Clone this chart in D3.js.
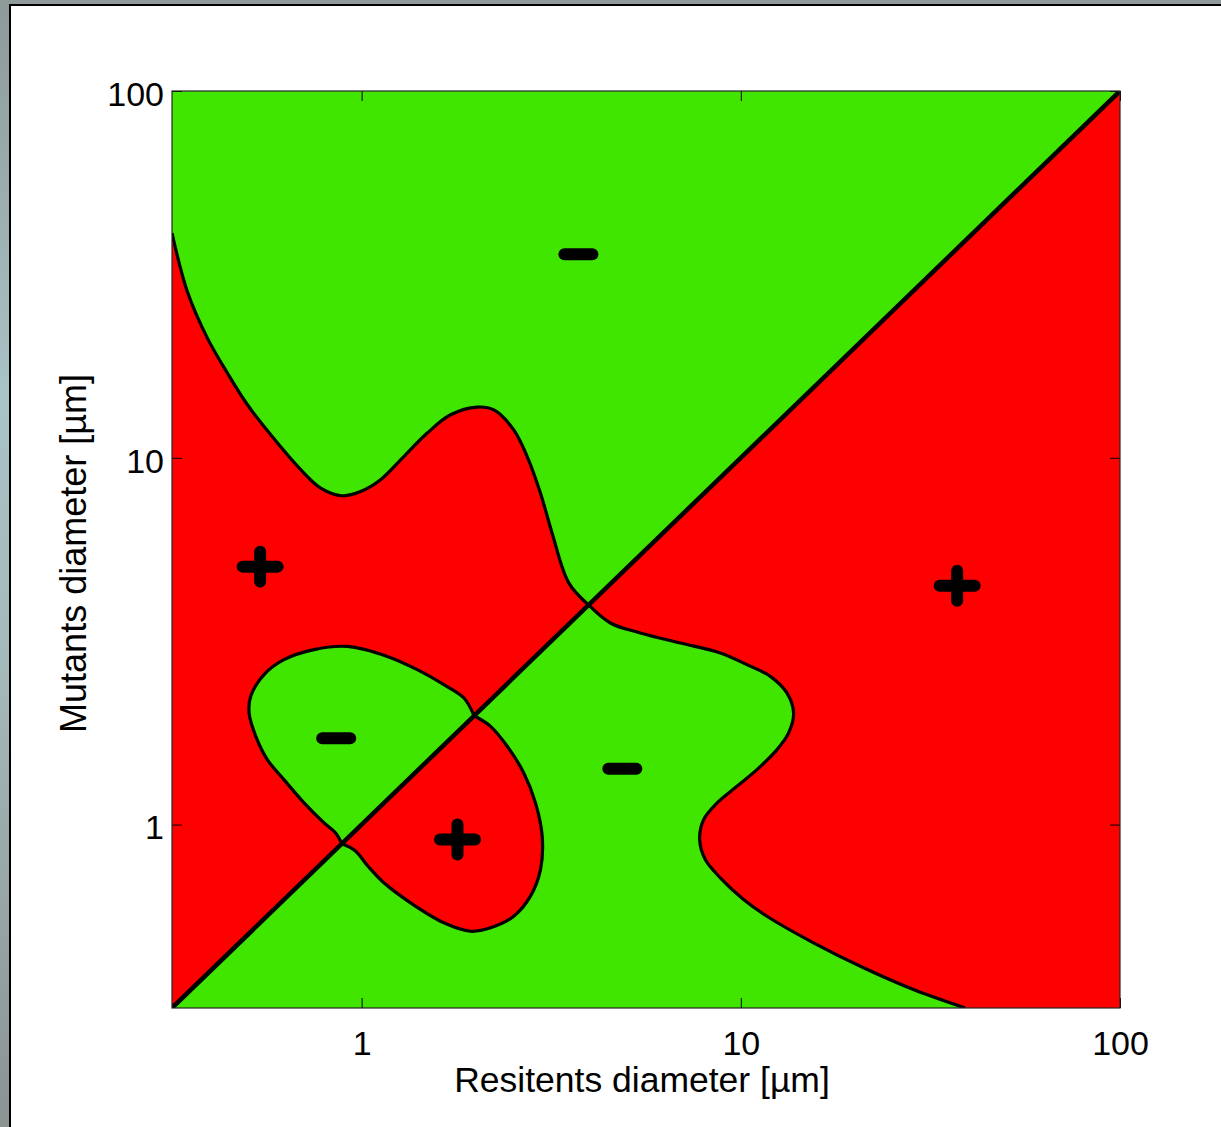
<!DOCTYPE html>
<html>
<head>
<meta charset="utf-8">
<script src="https://cdn.jsdelivr.net/npm/d3@7"></script>
<style>
  html, body { margin: 0; padding: 0; background: #ffffff; }
  svg { display: block; }
  text { font-family: "Liberation Sans", Arial, Helvetica, sans-serif; fill: #000; }
</style>
</head>
<body>
<svg id="chart" width="1221" height="1127"></svg>
<script>
// ---------------- data (µm) ----------------
const axisMin = 0.3162;
const axisMax = 100;
const xTickValues = [1, 10, 100];
const yTickValues = [1, 10, 100];
const xTickLabels = ["1", "10", "100"];
const yTickLabels = ["1", "10", "100"];
const xTitle = "Resitents diameter [\u00B5m]";
const yTitle = "Mutants diameter [\u00B5m]";

// boundary of the upper-left red region (left edge -> diagonal crossing)
const upperCurve = [
  [0.3162, 41.0], [0.347, 28.4], [0.392, 21.2], [0.443, 17.0], [0.500, 13.95],
  [0.576, 11.55], [0.691, 9.28], [0.780, 8.27], [0.889, 7.88], [0.994, 8.09],
  [1.122, 8.71], [1.292, 10.08], [1.490, 11.68], [1.716, 13.10], [2.018, 13.75],
  [2.232, 13.51], [2.519, 11.92], [2.733, 10.08], [2.963, 8.01], [3.18, 6.23],
  [3.518, 4.56], [3.97, 3.97]
];
// green oval above the diagonal
const leftOval = [
  [1.98, 1.98], [1.861, 2.214], [1.648, 2.407], [1.402, 2.645], [1.169, 2.874],
  [0.917, 3.06], [0.749, 3.00], [0.624, 2.816], [0.553, 2.564], [0.510, 2.237],
  [0.505, 2.016], [0.526, 1.740], [0.564, 1.504], [0.624, 1.326], [0.705, 1.146],
  [0.796, 1.011], [0.854, 0.949], [0.887, 0.887]
];
// red lobe below the diagonal
const rightLobe = [
  [1.98, 1.98], [2.188, 1.853], [2.421, 1.635], [2.677, 1.383], [2.874, 1.146],
  [2.994, 0.929], [2.963, 0.754], [2.788, 0.638], [2.519, 0.5625], [2.188, 0.523],
  [1.938, 0.512], [1.648, 0.540], [1.346, 0.612], [1.145, 0.694], [1.040, 0.770],
  [0.960, 0.850], [0.887, 0.887]
];
// boundary of the large lower-right red region (crossing -> bottom edge)
const rightCurve = [
  [3.97, 3.97], [4.53, 3.545], [5.435, 3.33], [6.93, 3.127], [8.83, 2.937],
  [10.38, 2.729], [11.96, 2.536], [13.23, 2.285], [13.78, 2.016], [13.37, 1.778],
  [12.46, 1.601], [11.03, 1.412], [9.77, 1.272], [8.66, 1.146], [7.98, 1.032],
  [7.79, 0.910], [8.06, 0.803], [8.83, 0.716], [10.17, 0.625], [11.72, 0.5625],
  [15.55, 0.476], [21.07, 0.407], [28.53, 0.355], [39.05, 0.3162]
];
const diagonal = [[axisMin, axisMin], [axisMax, axisMax]];

const minusMarks = [[3.73, 35.9], [0.857, 1.72], [4.87, 1.42]];
const plusMarks = [[0.540, 5.05], [1.79, 0.91], [37.2, 4.48]];

// ---------------- styles ----------------
const GREEN = "#40e600";
const RED = "#ff0000";
const plot = { left: 172, right: 1120, top: 91, bottom: 1008 };

const svg = d3.select("#chart");

// window chrome
const defs = svg.append("defs");
const grad = defs.append("linearGradient").attr("id", "sideGrad")
  .attr("x1", 0).attr("y1", 0).attr("x2", 0).attr("y2", 1);
grad.append("stop").attr("offset", "0%").attr("stop-color", "#8e9999");
grad.append("stop").attr("offset", "35%").attr("stop-color", "#a9c3c6");
grad.append("stop").attr("offset", "60%").attr("stop-color", "#a4b8ba");
grad.append("stop").attr("offset", "100%").attr("stop-color", "#8b9393");
svg.append("rect").attr("x", 0).attr("y", 0).attr("width", 1221).attr("height", 5).attr("fill", "#929b9b");
svg.append("rect").attr("x", 0).attr("y", 0).attr("width", 9).attr("height", 1127).attr("fill", "url(#sideGrad)");
svg.append("rect").attr("x", 9).attr("y", 4).attr("width", 1212).attr("height", 2).attr("fill", "#000");
svg.append("rect").attr("x", 9).attr("y", 4).attr("width", 2).attr("height", 1123).attr("fill", "#000");

// scales
const x = d3.scaleLog().domain([axisMin, axisMax]).range([plot.left, plot.right]);
const y = d3.scaleLog().domain([axisMin, axisMax]).range([plot.bottom, plot.top]);

defs.append("clipPath").attr("id", "plotClip").append("rect")
  .attr("x", plot.left).attr("y", plot.top)
  .attr("width", plot.right - plot.left).attr("height", plot.bottom - plot.top);

const g = svg.append("g").attr("clip-path", "url(#plotClip)");
const smooth = d3.line().x(d => x(d[0])).y(d => y(d[1])).curve(d3.curveCatmullRom.alpha(0.5));
const P = (a, b) => `L${x(a)},${y(b)}`;

g.append("rect").attr("x", plot.left).attr("y", plot.top)
  .attr("width", plot.right - plot.left).attr("height", plot.bottom - plot.top).attr("fill", GREEN);

// upper-left red region
g.append("path").attr("fill", RED)
  .attr("d", smooth(upperCurve) + P(axisMin, axisMin) + "Z");
// green oval
g.append("path").attr("fill", GREEN).attr("d", smooth(leftOval) + "Z");
// lower-right red region
g.append("path").attr("fill", RED)
  .attr("d", smooth(rightCurve) + P(axisMax, axisMin) + P(axisMax, axisMax) + "Z");
// red lobe
g.append("path").attr("fill", RED).attr("d", smooth(rightLobe) + "Z");

// boundaries
[upperCurve, leftOval, rightLobe, rightCurve].forEach(c => {
  g.append("path").attr("d", smooth(c)).attr("fill", "none")
    .attr("stroke", "#000").attr("stroke-width", 3.2).attr("stroke-linejoin", "round");
});
g.append("path").attr("d", d3.line().x(d => x(d[0])).y(d => y(d[1]))(diagonal))
  .attr("fill", "none").attr("stroke", "#000").attr("stroke-width", 4.5);

// markers
const mk = svg.append("g").attr("stroke", "#000").attr("stroke-width", 12)
  .attr("stroke-linecap", "round").attr("fill", "none");
minusMarks.forEach(d => {
  mk.append("line").attr("x1", x(d[0]) - 14).attr("x2", x(d[0]) + 14)
    .attr("y1", y(d[1])).attr("y2", y(d[1]));
});
plusMarks.forEach(d => {
  mk.append("line").attr("x1", x(d[0]) - 17.5).attr("x2", x(d[0]) + 17.5)
    .attr("y1", y(d[1])).attr("y2", y(d[1]));
  mk.append("line").attr("x1", x(d[0])).attr("x2", x(d[0]))
    .attr("y1", y(d[1]) - 15).attr("y2", y(d[1]) + 15);
});

// axes
const tickFont = 34;
const xa = svg.append("g").attr("transform", `translate(0,${plot.bottom})`)
  .call(d3.axisBottom(x).tickValues(xTickValues).tickFormat((d, i) => xTickLabels[i])
    .tickSizeInner(-10).tickSizeOuter(0).tickPadding(23));
const ya = svg.append("g").attr("transform", `translate(${plot.left},0)`)
  .call(d3.axisLeft(y).tickValues(yTickValues).tickFormat((d, i) => yTickLabels[i])
    .tickSizeInner(-10).tickSizeOuter(0).tickPadding(8));
const xt = svg.append("g").attr("transform", `translate(0,${plot.top})`)
  .call(d3.axisTop(x).tickValues(xTickValues).tickFormat("").tickSizeInner(-10).tickSizeOuter(0));
const yr = svg.append("g").attr("transform", `translate(${plot.right},0)`)
  .call(d3.axisRight(y).tickValues(yTickValues).tickFormat("").tickSizeInner(-10).tickSizeOuter(0));
[xa, ya, xt, yr].forEach(a => {
  a.select(".domain").remove();
  a.selectAll(".tick line").attr("stroke", "#000").attr("stroke-width", 1);
  a.selectAll("text").attr("font-size", tickFont).attr("font-family", null).attr("fill", "#000");
});
ya.selectAll("text").attr("dy", "0.42em");

svg.append("rect").attr("x", plot.left).attr("y", plot.top)
  .attr("width", plot.right - plot.left).attr("height", plot.bottom - plot.top)
  .attr("fill", "none").attr("stroke", "#262626").attr("stroke-width", 1.2);

// titles
svg.append("text").attr("x", (plot.left + plot.right) / 2 - 4).attr("y", 1092)
  .attr("text-anchor", "middle").attr("font-size", 35.5).text(xTitle);
svg.append("text").attr("transform", `translate(86,${(plot.top + plot.bottom) / 2 + 4}) rotate(-90)`)
  .attr("text-anchor", "middle").attr("font-size", 36).text(yTitle);
</script>
</body>
</html>
